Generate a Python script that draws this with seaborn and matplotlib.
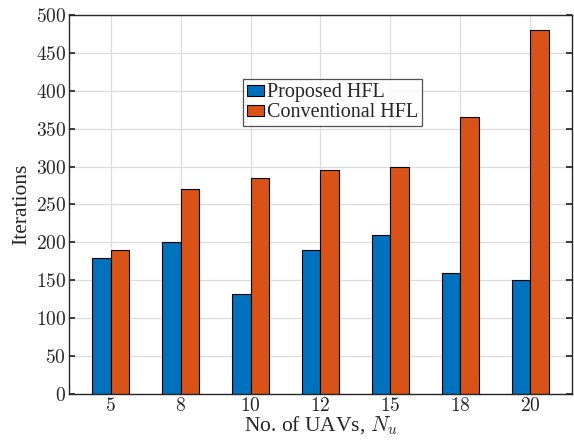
import pandas as pd
import matplotlib
matplotlib.use("Agg")
import matplotlib.pyplot as plt
import seaborn as sns

# data
n_uavs = ["5", "8", "10", "12", "15", "18", "20"]
proposed = [180, 200, 132, 190, 210, 160, 150]
conventional = [190, 270, 285, 295, 300, 365, 480]

df = pd.DataFrame({
    "N": n_uavs * 2,
    "Iterations": proposed + conventional,
    "Method": ["Proposed HFL"] * len(n_uavs) + ["Conventional HFL"] * len(n_uavs),
})

sns.set_theme(style="whitegrid")
plt.rcParams["font.family"] = "serif"
plt.rcParams["font.serif"] = ["Liberation Serif", "DejaVu Serif"]
plt.rcParams["mathtext.fontset"] = "cm"

fig = plt.figure(figsize=(5.74, 4.41), dpi=100)
ax = fig.add_axes([0.120, 0.1066, 0.8765, 0.8594])

sns.barplot(data=df, x="N", y="Iterations", hue="Method",
            palette=["#0072BD", "#D95319"], saturation=1, width=0.53,
            edgecolor="black", linewidth=0.8, ax=ax)

ax.set_xlim(-0.6, 6.6)
ax.set_ylim(0, 500)
ax.set_yticks(range(0, 501, 50))
ax.set_yticklabels([f"${v}$" for v in range(0, 501, 50)])
ax.set_xticks(range(len(n_uavs)))
ax.set_xticklabels([f"${v}$" for v in n_uavs])
ax.tick_params(labelsize=14, direction="in", length=4, color="#262626",
               right=True, top=False, bottom=True, left=True, pad=2)
ax.grid(True, color="#dcdcdc", linewidth=0.9)
ax.set_axisbelow(True)
for s in ax.spines.values():
    s.set_color("#262626")
    s.set_linewidth(1.0)

ax.set_xlabel("No. of UAVs, $N_u$", fontsize=15.5, labelpad=0)
ax.set_ylabel("Iterations", fontsize=15.5, labelpad=3)

leg = ax.legend(loc="upper left", bbox_to_anchor=(0.346, 0.830), fontsize=14.5,
                frameon=True, fancybox=False, edgecolor="#262626",
                handlelength=0.85, handleheight=0.5, handletextpad=0.12,
                borderpad=0.2, labelspacing=0.05, borderaxespad=0)
leg.get_frame().set_linewidth(0.9)

fig.savefig("out.png", dpi=100)
